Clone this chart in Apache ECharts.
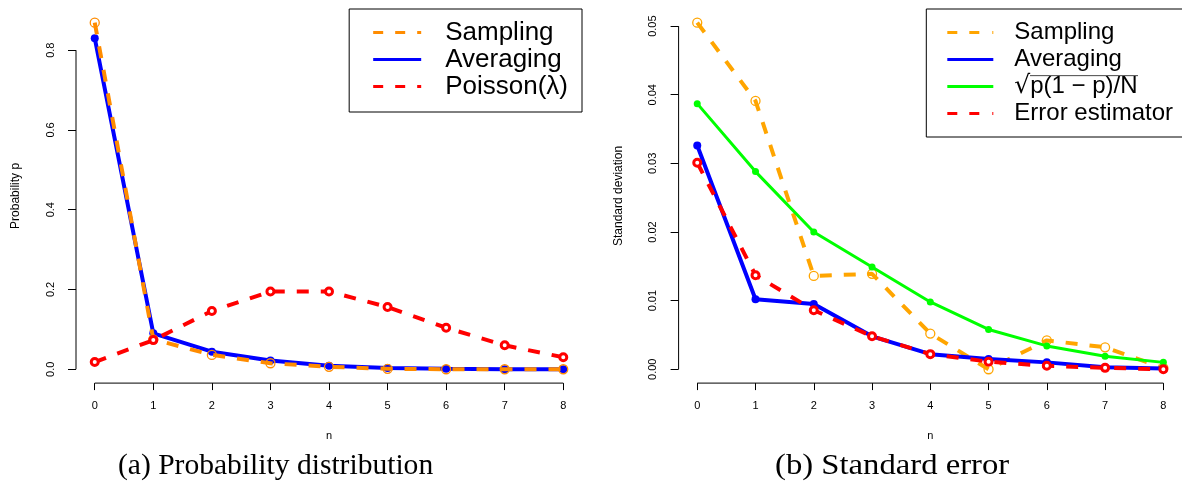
<!DOCTYPE html>
<html><head><meta charset="utf-8">
<script src="https://cdn.jsdelivr.net/npm/echarts@6/dist/echarts.min.js"></script>
<style>html,body{margin:0;padding:0;background:#fff}#c{width:1182px;height:490px}</style>
</head><body><div id="c"></div>
<script>
// ---------- data ----------
const nValues = [0, 1, 2, 3, 4, 5, 6, 7, 8];
const xTicks = [0, 1, 2, 3, 4, 5, 6, 7, 8];
const probTicks = [0, 0.2, 0.4, 0.6, 0.8];
const errTicks = [0, 0.01, 0.02, 0.03, 0.04, 0.05];

const probSampling  = [0.869, 0.075, 0.036, 0.015, 0.006, 0.001, 0.000, 0.000, 0.000];
const probAveraging = [0.830, 0.090, 0.044, 0.022, 0.009, 0.003, 0.001, 0.000, 0.000];
const probPoisson   = [0.018, 0.073, 0.146, 0.195, 0.195, 0.156, 0.104, 0.060, 0.030];

const errSampling  = [0.0505, 0.0391, 0.0136, 0.0139, 0.0052, 0.0000, 0.0042, 0.0032, 0.0002];
const errAveraging = [0.0326, 0.0102, 0.0095, 0.0048, 0.0022, 0.0015, 0.0010, 0.0003, 0.0001];
const errBinomial  = [0.0387, 0.0288, 0.0200, 0.0149, 0.0098, 0.0058, 0.0034, 0.0019, 0.0010];
const errEstimator = [0.0301, 0.0137, 0.0086, 0.0048, 0.0022, 0.0011, 0.0005, 0.0002, 0.0000];

const SQRT_NAME = '√p(1 − p)/N';

// ---------- helpers ----------
function paddedRange(lists) {
  let lo = Infinity, hi = -Infinity;
  lists.forEach(a => a.forEach(v => { lo = Math.min(lo, v); hi = Math.max(hi, v); }));
  const pad = 0.04 * (hi - lo);
  return [lo - pad, hi + pad];
}
const xRange = paddedRange([nValues]);
const probRange = paddedRange([probSampling, probAveraging, probPoisson]);
const errRange = paddedRange([errSampling, errAveraging, errBinomial, errEstimator]);
const pts = ys => nValues.map((n, i) => [n, ys[i]]);

const TICK_FONT = '"Liberation Sans Narrow", "Liberation Sans", Arial, sans-serif';
const SANS = '"Liberation Sans", Arial, sans-serif';

function frameSeries(idx, yTicks, yr) {
  const base = {type: 'line', xAxisIndex: idx, yAxisIndex: idx, symbol: 'none', silent: true,
    clip: false, animation: false, z: 1, lineStyle: {color: '#000', width: 1}, tooltip: {show: false}};
  return [
    Object.assign({}, base, {data: [[xRange[0], yTicks[0]], [xRange[0], yTicks[yTicks.length - 1]]]}),
    Object.assign({}, base, {data: [[xTicks[0], yr[0]], [xTicks[xTicks.length - 1], yr[0]]]})
  ];
}

function xAxisCfg(i) {
  return {
    type: 'value', gridIndex: i, min: xRange[0], max: xRange[1],
    axisLine: {show: false, onZero: false}, splitLine: {show: false},
    axisTick: {show: true, customValues: xTicks, length: 7, lineStyle: {color: '#000', width: 1}},
    axisLabel: {customValues: xTicks, margin: 17, fontSize: 11, color: '#000', fontFamily: TICK_FONT},
    name: 'n', nameLocation: 'middle', nameGap: 47,
    nameTextStyle: {fontSize: 11, color: '#000', fontFamily: TICK_FONT}
  };
}
function yAxisCfg(i, yr, ticks, digits, title) {
  return {
    type: 'value', gridIndex: i, min: yr[0], max: yr[1],
    axisLine: {show: false, onZero: false}, splitLine: {show: false},
    axisTick: {show: true, customValues: ticks, length: 8, lineStyle: {color: '#000', width: 1}},
    axisLabel: {customValues: ticks, rotate: 90, margin: 20, fontSize: 11, color: '#000',
      fontFamily: TICK_FONT, formatter: v => v.toFixed(digits)},
    name: title, nameLocation: 'middle', nameGap: 54, nameRotate: 90,
    nameTextStyle: {fontSize: 12, color: '#000', fontFamily: TICK_FONT}
  };
}

const DASH = [12, 12];
function dashedOpen(name, idx, data, color, z) {
  return {type: 'line', name, xAxisIndex: idx, yAxisIndex: idx, data, z, animation: false,
    symbol: 'circle', symbolSize: 9,
    itemStyle: {color: 'rgba(0,0,0,0)', borderColor: color, borderWidth: 1.3},
    lineStyle: {color, width: 4, type: DASH}};
}
function solidFilled(name, idx, data, color, width, size, z) {
  return {type: 'line', name, xAxisIndex: idx, yAxisIndex: idx, data, z, animation: false,
    symbol: 'circle', symbolSize: size,
    itemStyle: {color: color},
    lineStyle: {color, width}};
}
function dashedRing(name, idx, data, color, z) {
  return {type: 'line', name, xAxisIndex: idx, yAxisIndex: idx, data, z, animation: false,
    symbol: 'circle', symbolSize: 7,
    itemStyle: {color: '#fff', borderColor: color, borderWidth: 3},
    lineStyle: {color, width: 4, type: DASH}};
}

// legend icons
const dashIconL = 'path://M0,0H10V3H0Z M22,0H32V3H22Z M44,0H48V3H44Z';
const dashIconR = 'path://M0,0H10V3H0Z M22,0H32V3H22Z M45,0H46V3H45Z';
const legendItem = (name, icon, color) => ({name, icon, itemStyle: {color, borderColor: color, borderWidth: 0}});

// overline image for the square-root legend text
const ov = document.createElement('canvas');
ov.width = 4; ov.height = 27;
const g = ov.getContext('2d');
g.fillStyle = '#000'; g.fillRect(0, 0, 4, 1.4);

const ORANGE_A = '#FF8C00', ORANGE_B = '#FFA500', BLUE = '#0000FF', RED = '#FF0000', GREEN = '#00FF00';

const chart = echarts.init(document.getElementById('c'), null, {renderer: 'canvas'});
chart.setOption({
  backgroundColor: '#fff',
  animation: false,
  grid: [
    {left: 76, top: 8.8, width: 506, height: 374.3},
    {left: 678.6, top: 8.8, width: 505.8, height: 374.3}
  ],
  xAxis: [xAxisCfg(0), xAxisCfg(1)],
  yAxis: [
    yAxisCfg(0, probRange, probTicks, 1, 'Probability p'),
    yAxisCfg(1, errRange, errTicks, 2, 'Standard deviation')
  ],
  legend: [
    {
      orient: 'vertical', right: 600, top: 9, selectedMode: false,
      padding: [10, 14, 12, 24], borderColor: '#000', borderWidth: 1, backgroundColor: '#fff',
      itemWidth: 48, itemHeight: 3, itemGap: 0,
      textStyle: {fontSize: 26, lineHeight: 27, fontFamily: SANS, color: '#000', padding: [0, 0, 0, 19]},
      data: [legendItem('Sampling', dashIconL, ORANGE_A), legendItem('Averaging', 'rect', BLUE),
             legendItem('Poisson(λ)', dashIconL, RED)]
    },
    {
      orient: 'vertical', right: -2, top: 9, selectedMode: false,
      padding: [10, 11, 10, 21], borderColor: '#000', borderWidth: 1, backgroundColor: '#fff',
      itemWidth: 46, itemHeight: 3, itemGap: 0,
      textStyle: {fontSize: 24, lineHeight: 27, fontFamily: SANS, color: '#000', padding: [0, 0, 0, 16],
        rich: {
          r: {fontSize: 25, lineHeight: 27, fontFamily: '"DejaVu Sans", sans-serif', color: '#000'},
          o: {fontSize: 24, lineHeight: 27, fontFamily: SANS, color: '#000', backgroundColor: {image: ov}}
        }},
      formatter: name => name === SQRT_NAME ? '{r|√}{o|p(1 − p)/N}' : name,
      data: [legendItem('Sampling', dashIconR, ORANGE_B), legendItem('Averaging', 'rect', BLUE),
             legendItem(SQRT_NAME, 'rect', GREEN), legendItem('Error estimator', dashIconR, RED)]
    }
  ],
  graphic: [
    {type: 'text', x: 118, y: 451, scaleX: 0.985, style: {text: '(a) Probability distribution',
      fontSize: 30, fontFamily: '"Liberation Serif", serif', fill: '#000'}},
    {type: 'text', x: 775, y: 451, scaleX: 1.09, style: {text: '(b) Standard error',
      fontSize: 30, fontFamily: '"Liberation Serif", serif', fill: '#000'}}
  ],
  series: [
    ...frameSeries(0, probTicks, probRange),
    ...frameSeries(1, errTicks, errRange),
    solidFilled('Averaging', 0, pts(probAveraging), BLUE, 4, 8, 2),
    dashedOpen('Sampling', 0, pts(probSampling), ORANGE_A, 3),
    dashedRing('Poisson(λ)', 0, pts(probPoisson), RED, 4),
    dashedOpen('Sampling', 1, pts(errSampling), ORANGE_B, 2),
    solidFilled('Averaging', 1, pts(errAveraging), BLUE, 4, 8, 3),
    solidFilled(SQRT_NAME, 1, pts(errBinomial), GREEN, 3, 7, 4),
    dashedRing('Error estimator', 1, pts(errEstimator), RED, 5)
  ]
});
</script></body></html>
